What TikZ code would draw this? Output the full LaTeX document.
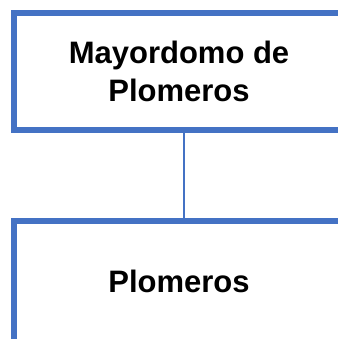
\documentclass[tikz,border=0pt]{standalone}
\usepackage{fontspec}
\setmainfont{Liberation Sans}
\usetikzlibrary{positioning}
\definecolor{officeBlue}{HTML}{4472C4}

\begin{document}
\begin{tikzpicture}[x=1pt, y=1pt,
		orgbox/.style={draw=officeBlue, line width=6pt, fill=white, align=center,
			minimum width=330pt, inner sep=0pt,
			font=\fontsize{31}{38}\selectfont\bfseries}]
	\useasboundingbox (0,0) rectangle (337,339);
	
	% upper and lower box
	\node[orgbox, minimum height=117pt] (mayordomo) at (179, 267.5) {Mayordomo de\\Plomeros};
	\node[orgbox, minimum height=121pt] (plomeros) at (179, 57.5) {Plomeros};
	
	\draw[officeBlue, line width=2pt] ([xshift=5pt]mayordomo.south) -- ([xshift=5pt]plomeros.north);
\end{tikzpicture}
\end{document}
